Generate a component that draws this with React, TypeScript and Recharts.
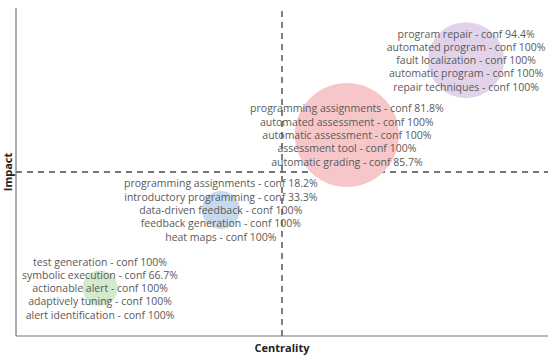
import { ScatterChart, Scatter, XAxis, YAxis, ZAxis, ReferenceLine, LabelList, Cell } from 'recharts'

// clusters, low to high on both axes
const centrality = [0.158, 0.385, 0.622, 0.846]
const impact = [0.146, 0.384, 0.613, 0.841]
const weight = [11.5, 13.3, 100, 53.4]
const colors = ['#d4eacd', '#c7d9ec', '#f6c6c8', '#e3d3ea']

const greenTerms = [
  'test generation - conf 100%',
  'symbolic execution - conf 66.7%',
  'actionable alert - conf 100%',
  'adaptively tuning - conf 100%',
  'alert identification - conf 100%'
]
const blueTerms = [
  'programming assignments - conf 18.2%',
  'introductory programming - conf 33.3%',
  'data-driven feedback - conf 100%',
  'feedback generation - conf 100%',
  'heat maps - conf 100%'
]
const redTerms = [
  'programming assignments - conf 81.8%',
  'automated assessment - conf 100%',
  'automatic assessment - conf 100%',
  'assessment tool - conf 100%',
  'automatic grading - conf 85.7%'
]
const purpleTerms = [
  'program repair - conf 94.4%',
  'automated program - conf 100%',
  'fault localization - conf 100%',
  'automatic program - conf 100%',
  'repair techniques - conf 100%'
]
const terms = [greenTerms, blueTerms, redTerms, purpleTerms]

const data = centrality.map((c, i) => ({ x: c, y: impact[i], z: weight[i], terms: terms[i] }))

const font = "'Open Sans', 'DejaVu Sans', sans-serif"

const TermsLabel = (props: any) => {
  const vb = props.viewBox ?? props
  const cx = vb.x + vb.width / 2
  const cy = vb.y + vb.height / 2
  const lines: string[] = data[props.index].terms
  const lh = 13.3
  const top = cy - ((lines.length - 1) * lh) / 2
  return (
    <g>
      {lines.map((t, k) => (
        <text
          key={k}
          x={cx}
          y={top + k * lh}
          textAnchor='middle'
          dominantBaseline='central'
          fontSize={10.5}
          fontFamily={font}
          fill='#5a5a5a'
        >
          {t}
        </text>
      ))}
    </g>
  )
}

const YLabel = (props: any) => {
  const { x, y, width, height } = props.viewBox
  const lx = x + width / 2 - 1
  const ly = y + height / 2
  return (
    <text
      x={lx}
      y={ly}
      transform={`rotate(-90, ${lx}, ${ly})`}
      textAnchor='middle'
      dominantBaseline='central'
      fontSize={11}
      fontWeight='bold'
      fontFamily={font}
      fill='#222'
    >
      Impact
    </text>
  )
}

export default function App() {
  return (
    <div style={{ position: 'absolute', left: 0, top: 0, background: '#fff' }}>
      <ScatterChart width={550} height={357} margin={{ top: 8, right: 2, left: 0, bottom: 0 }}>
        <XAxis
          type='number'
          dataKey='x'
          domain={[0, 1]}
          tick={false}
          tickLine={false}
          height={21}
          axisLine={{ stroke: '#777', strokeWidth: 1.2 }}
          label={{
            value: 'Centrality',
            position: 'insideBottom',
            offset: 5,
            fontSize: 11,
            fontWeight: 'bold',
            fontFamily: font,
            fill: '#222'
          }}
        />
        <YAxis
          type='number'
          dataKey='y'
          domain={[0, 1]}
          tick={false}
          tickLine={false}
          width={16}
          axisLine={{ stroke: '#777', strokeWidth: 1.2 }}
          label={<YLabel />}
        />
        <ZAxis type='number' dataKey='z' domain={[0, 100]} range={[0, 8495]} />
        <Scatter data={data} isAnimationActive={false}>
          {data.map((d, i) => (
            <Cell key={i} fill={colors[i]} />
          ))}
          <LabelList dataKey='z' content={<TermsLabel />} />
        </Scatter>
        <ReferenceLine x={0.5} stroke='#4a4a4a' strokeWidth={1.4} strokeDasharray='6 5' />
        <ReferenceLine y={0.5} stroke='#4a4a4a' strokeWidth={1.4} strokeDasharray='6 5' />
      </ScatterChart>
    </div>
  )
}
